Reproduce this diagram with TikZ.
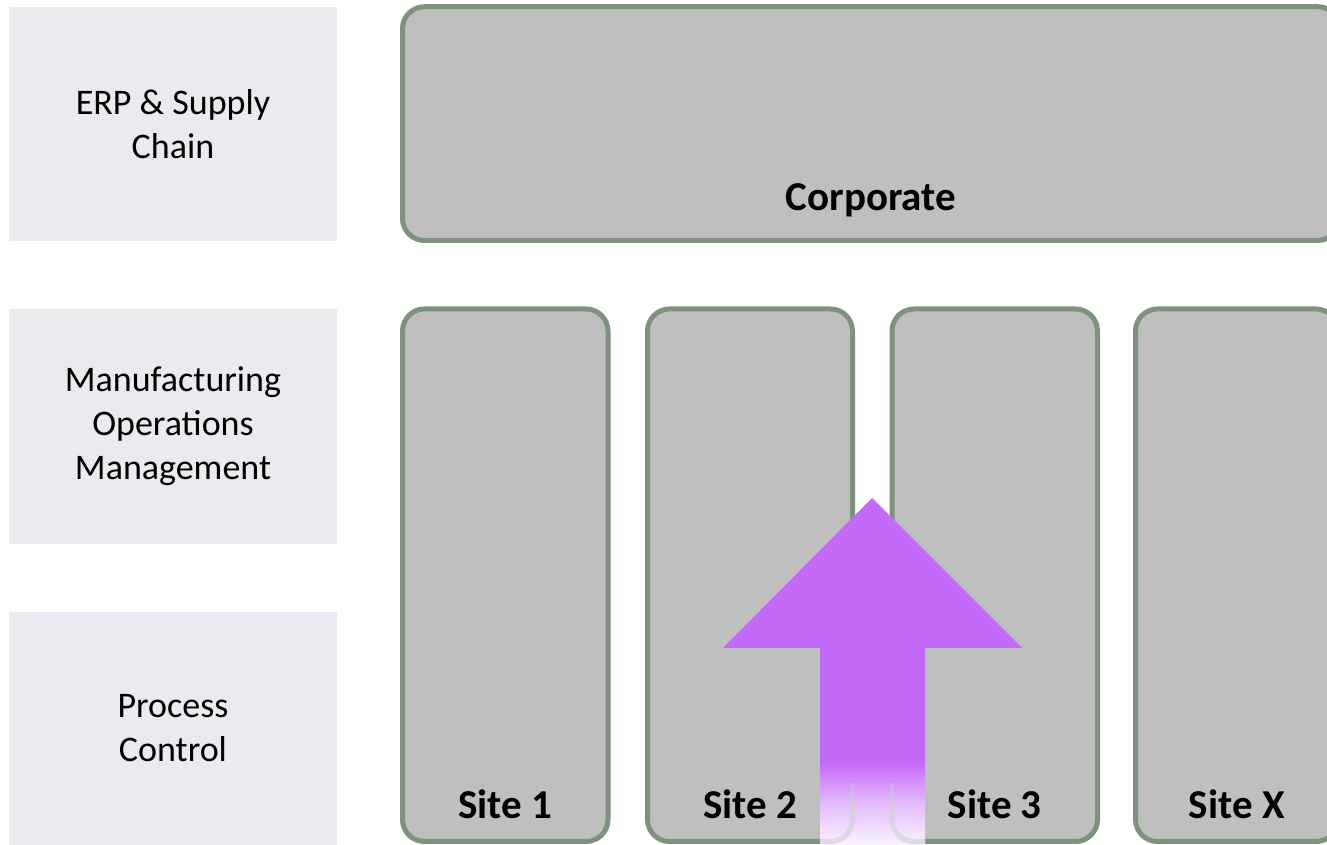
\documentclass[tikz,border=0pt]{standalone}
\usepackage{fontspec}
\setmainfont{Carlito}
\definecolor{lblfill}{HTML}{EBEBEF}
\definecolor{boxfill}{HTML}{BFBFBF}
\definecolor{boxline}{HTML}{7E927E}
\definecolor{arrowc}{HTML}{C46AF9}
\definecolor{fadeend}{HTML}{FAF4FF}
\definecolor{ghostline}{HTML}{D2D2D2}
\tikzset{
  x=1pt, y=1pt,
  lvl/.style={fill=lblfill, draw=none, inner sep=0pt, minimum width=328pt,
    align=center, font=\fontsize{36}{44}\selectfont},
  bigbox/.style={fill=boxfill, draw=boxline, line width=5pt, rounded corners=22pt, inner sep=0pt},
  sitetext/.style={font=\fontsize{41}{48}\selectfont\bfseries, inner sep=0pt},
  arrowfill/.style={fill=arrowc, draw=none},
  ghost/.style={ghostline, line width=5pt, rounded corners=22pt},
}
\begin{document}
\begin{tikzpicture}
\useasboundingbox (0,0) rectangle (1327,845);
\fill[white] (0,0) rectangle (1327,845);
\begin{scope}
\clip (0,0) rectangle (1327,845);
% level labels
\node[lvl, minimum height=234pt] (erp) at (173,721) {ERP \& Supply\\Chain};
\node[lvl, minimum height=235pt] (mom) at (173,418.5) {Manufacturing\\Operations\\Management};
\node[lvl, minimum height=233pt] (pc) at (173,116.5) {Process\\Control};
% corporate
\node[bigbox, minimum width=937pt, minimum height=233.8pt] (corp) at (871,721.4) {};
\node[sitetext] (corptext) at (871,645) {Corporate};
% sites
\node[bigbox, minimum width=205.5pt, minimum height=532.5pt] (s1) at (505.25,269.75) {};
\node[bigbox, minimum width=205pt, minimum height=532.5pt] (s2) at (750,269.75) {};
\node[bigbox, minimum width=205.5pt, minimum height=532.5pt] (s3) at (994.75,269.75) {};
\node[bigbox, minimum width=202.5pt, minimum height=532.5pt] (sx) at (1236.75,269.75) {};
\node[sitetext] (t1) at (505.25,41) {Site 1};
\node[sitetext] (t2) at (750,41) {Site 2};
\node[sitetext] (t3) at (994.75,41) {Site 3};
\node[sitetext] (tx) at (1236.75,41) {Site X};
% arrow
\fill[arrowfill] (820,82) -- (820,197) -- (723,197) -- (872,347) -- (1022,197) -- (925,197) -- (925,82) -- cycle;
\shade[top color=arrowc, bottom color=fadeend, middle color=arrowc!45!white] (820,0) rectangle (925,82.5);
\begin{scope}
\clip (820,0) rectangle (925,82.5);
\draw[ghost, draw opacity=0.3] (852.5,62) -- (852.5,3.5) -- (800,3.5);
\draw[ghost, draw opacity=0.3] (892,62) -- (892,3.5) -- (950,3.5);
\draw[ghost, draw opacity=0.5] (852.5,40) -- (852.5,3.5) -- (800,3.5);
\draw[ghost, draw opacity=0.5] (892,40) -- (892,3.5) -- (950,3.5);
\end{scope}
\end{scope}
\end{tikzpicture}
\end{document}
